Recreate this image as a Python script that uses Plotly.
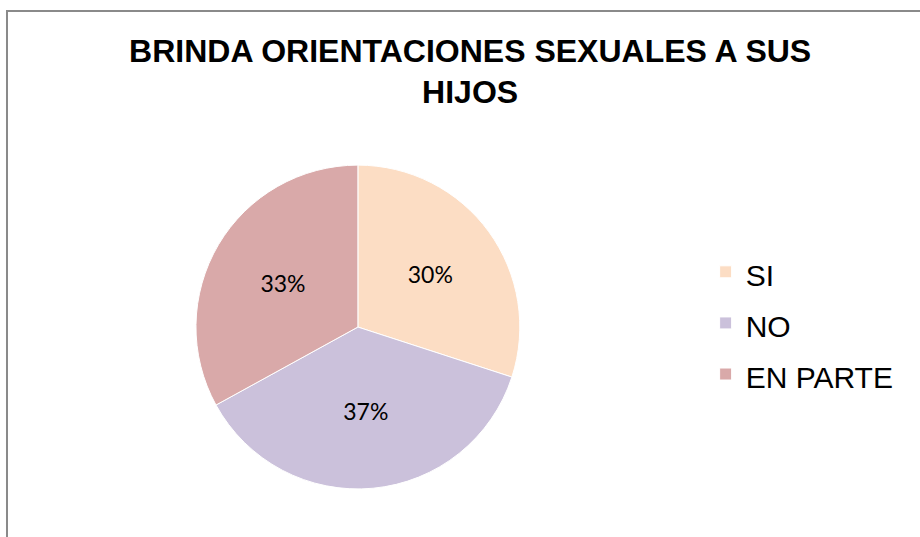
import plotly.graph_objects as go

# datos del gráfico
categorias = ["SI", "NO", "EN PARTE"]
valores = [30, 37, 33]
colores = ["#FCDDC4", "#CBC1DB", "#D9A9A9"]

titulo = "BRINDA ORIENTACIONES SEXUALES A SUS<br>HIJOS"

# etiquetas de leyenda con tamaño propio (la fuente grande de la leyenda solo da el interlineado)
etiquetas = [f"<span style='font-size:30px'>{c}</span>" for c in categorias]

fig = go.Figure(go.Pie(
    labels=etiquetas,
    values=valores,
    sort=False,
    direction="clockwise",
    rotation=0,
    marker=dict(colors=colores, line=dict(color="white", width=1)),
    textinfo="percent",
    textposition="inside",
    insidetextorientation="horizontal",
    textfont=dict(family="Lato", size=23, color="black"),
    hovertext=categorias,
    hoverinfo="text+percent",
    domain=dict(x=[0.213, 0.565], y=[0.089, 0.693]),
))

fig.update_layout(
    width=920,
    height=537,
    margin=dict(l=0, r=0, t=0, b=0, autoexpand=False),
    paper_bgcolor="white",
    title=dict(
        text=titulo,
        x=0.511,
        xanchor="center",
        y=0.885,
        yanchor="top",
        font=dict(family="Liberation Sans", size=32, color="black", weight="bold"),
    ),
    legend=dict(
        x=0.767,
        xanchor="left",
        y=0.398,
        yanchor="middle",
        font=dict(family="Liberation Sans", size=37, color="black"),
        bgcolor="rgba(0,0,0,0)",
    ),
    shapes=[
        # marco del gráfico (recortado a derecha y abajo)
        dict(type="rect", xref="paper", yref="paper",
             x0=0.0076, x1=1.02, y0=-0.02, y1=0.9795,
             line=dict(color="#8A8A8A", width=2), fillcolor="rgba(0,0,0,0)", layer="below"),
    ],
)

# sin margen del body para que la figura ocupe la ventana exacta
fig.write_html("out.html", config={"displayModeBar": False},
               post_script="document.body.style.margin='0';")
